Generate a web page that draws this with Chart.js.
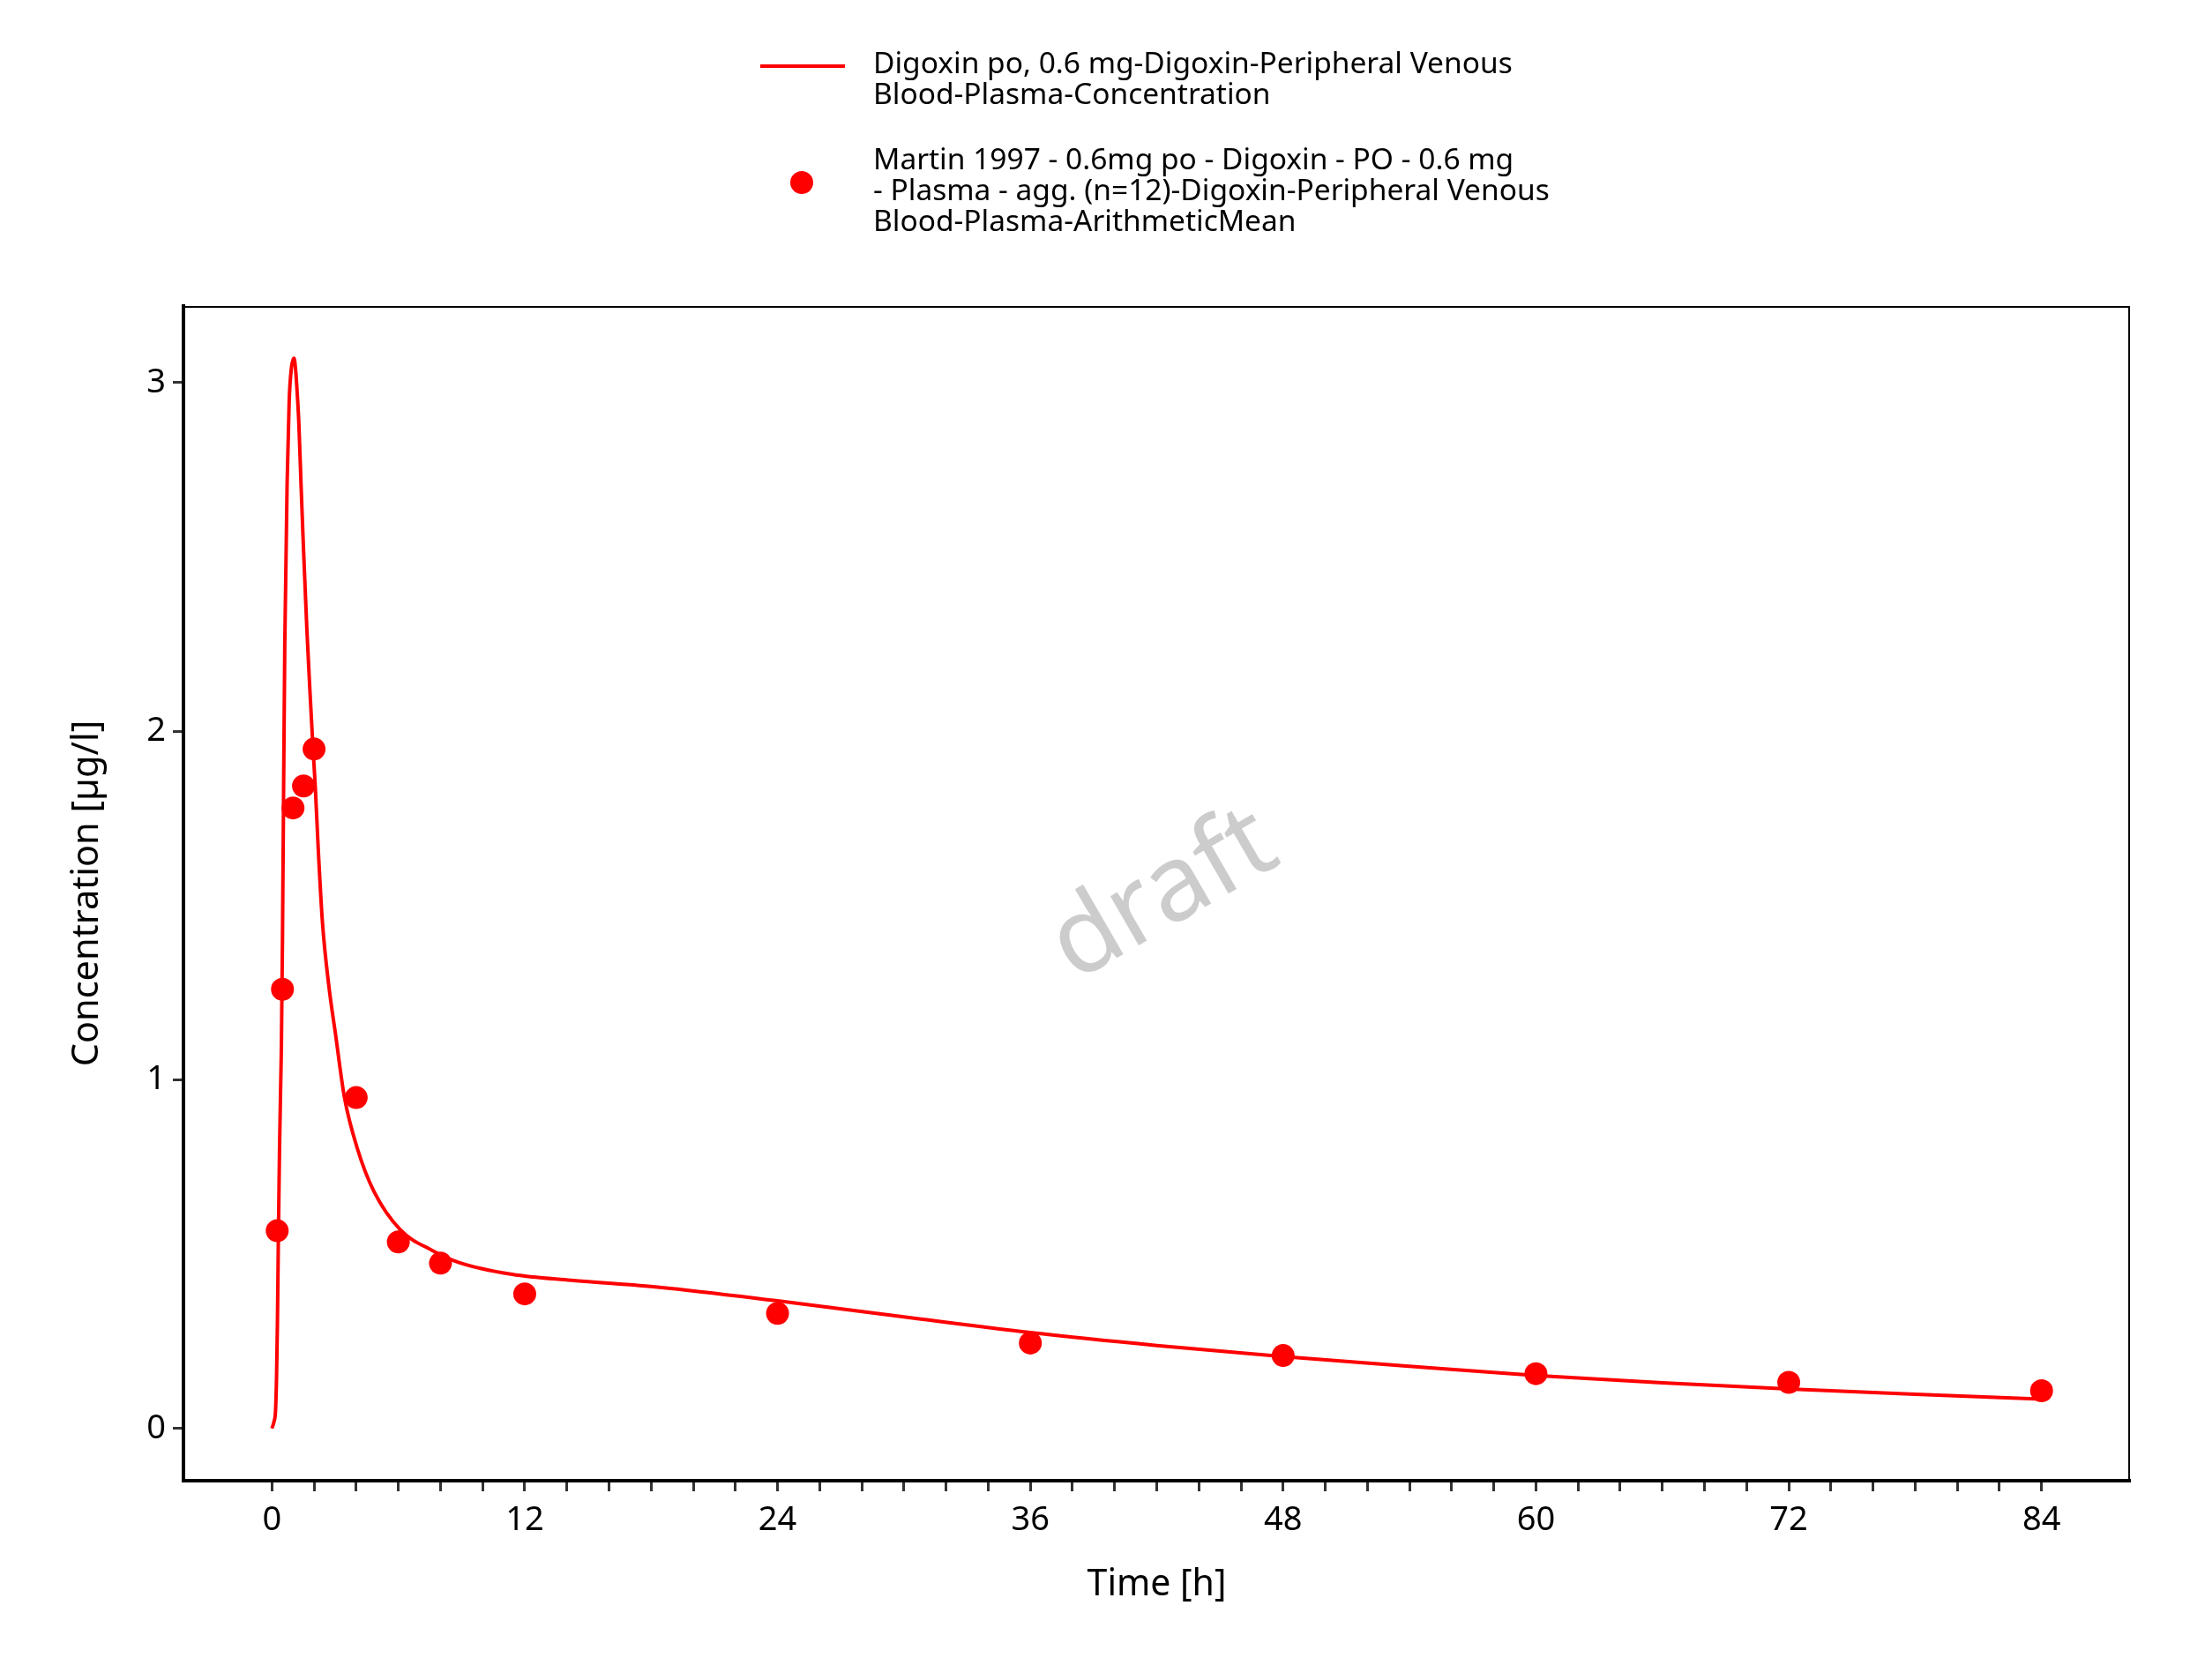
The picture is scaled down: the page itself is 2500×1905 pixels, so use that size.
<!DOCTYPE html>
<html>
<head>
<meta charset="utf-8">
<script src="https://cdn.jsdelivr.net/npm/chart.js@4.4.1/dist/chart.umd.min.js"></script>
<style>
  body { margin: 0; background: #fff; }
  #wrap { width: 2500px; height: 1905px; position: relative; }
</style>
</head>
<body>
<div id="wrap"><canvas id="pk"></canvas></div>
<script>
// simulated curve
const simTime = [0, 0.1, 0.17, 0.22, 0.26, 0.31, 0.36, 0.42, 0.45, 0.5, 0.55, 0.61, 0.72, 0.82, 0.92, 1.0, 1.05, 1.12, 1.2, 1.28, 1.38, 1.5, 1.66, 1.8, 1.95, 2.05, 2.2, 2.4, 2.7, 3.02, 3.44, 4.07, 4.84, 6.09, 7.63, 8.88, 11.4, 14.2, 18.4, 24, 30, 36, 42, 48, 54, 60, 66, 72, 78, 84];
const simConc = [0, 0.02, 0.05, 0.15, 0.30, 0.57, 0.80, 1.0, 1.1, 1.4, 1.8, 2.25, 2.71, 2.95, 3.04, 3.065, 3.07, 3.04, 2.97, 2.88, 2.71, 2.52, 2.29, 2.12, 1.95, 1.85, 1.66, 1.45, 1.27, 1.13, 0.95, 0.80, 0.68, 0.57, 0.51, 0.476, 0.442, 0.425, 0.405, 0.366, 0.32, 0.275, 0.238, 0.206, 0.178, 0.152, 0.131, 0.113, 0.098, 0.084];

// observed means
const obsTime = [0.25, 0.5, 1, 1.5, 2, 4, 6, 8, 12, 24, 36, 48, 60, 72, 84];
const obsConc = [0.567, 1.26, 1.78, 1.843, 1.949, 0.949, 0.535, 0.474, 0.386, 0.33, 0.245, 0.209, 0.157, 0.132, 0.108];

const simLabel = ['Digoxin po, 0.6 mg-Digoxin-Peripheral Venous', 'Blood-Plasma-Concentration'];
const obsLabel = ['Martin 1997 - 0.6mg po - Digoxin - PO - 0.6 mg', '- Plasma - agg. (n=12)-Digoxin-Peripheral Venous', 'Blood-Plasma-ArithmeticMean'];

const xMajor = [0, 12, 24, 36, 48, 60, 72, 84];
const yTicks = [0, 1, 2, 3];

const RED = '#ff0000';
const FONT = "'Noto Sans', sans-serif";

// top/right frame lines
const framePlugin = {
    id: 'frame',
    afterDraw(chart) {
        const { ctx, chartArea: a } = chart;
        ctx.save();
        ctx.strokeStyle = '#000';
        ctx.lineWidth = 2;
        ctx.beginPath();
        ctx.moveTo(a.left, a.top + 1);
        ctx.lineTo(a.right - 1, a.top + 1);
        ctx.lineTo(a.right - 1, a.bottom);
        ctx.stroke();
        ctx.restore();
    }
};

const watermark = {
    id: 'watermark',
    beforeDatasetsDraw(chart) {
        const { ctx, chartArea: a } = chart;
        ctx.save();
        ctx.translate((a.left + a.right) / 2 + 8, (a.top + a.bottom) / 2 + 3);
        ctx.rotate(-30 * Math.PI / 180);
        ctx.fillStyle = '#cccccc';
        ctx.font = '120px ' + FONT;
        ctx.textAlign = 'center';
        ctx.textBaseline = 'middle';
        ctx.fillText('draft', 0, 0);
        ctx.restore();
    }
};

// legend drawn by hand, multi-line labels
const legendPlugin = {
    id: 'multiLegend',
    afterDraw(chart) {
        const ctx = chart.ctx;
        const ds = chart.data.datasets;
        ctx.save();
        ctx.font = '33.5px ' + FONT;
        ctx.fillStyle = '#000';
        ctx.textBaseline = 'middle';
        ctx.textAlign = 'left';
        const textX = 990, lh = 35.3;
        // line entry
        ctx.strokeStyle = ds[0].borderColor;
        ctx.lineWidth = 4;
        ctx.beginPath();
        ctx.moveTo(862, 75);
        ctx.lineTo(958, 75);
        ctx.stroke();
        ds[0].legendLines.forEach((t, i) => ctx.fillText(t, textX, 73 + i * lh));
        // point entry
        ctx.fillStyle = ds[1].backgroundColor;
        ctx.beginPath();
        ctx.arc(909, 207, 13, 0, Math.PI * 2);
        ctx.fill();
        ctx.fillStyle = '#000';
        ds[1].legendLines.forEach((t, i) => ctx.fillText(t, textX, 182 + i * lh));
        ctx.restore();
    }
};

const ctx = document.getElementById('pk').getContext('2d');
const chart = new Chart(ctx, {
    type: 'scatter',
    data: {
        datasets: [{
            type: 'line',
            label: simLabel.join(' '),
            legendLines: simLabel,
            data: simTime.map((t, i) => ({ x: t, y: simConc[i] })),
            borderColor: RED,
            backgroundColor: RED,
            borderWidth: 4,
            pointRadius: 0,
            cubicInterpolationMode: 'monotone',
            fill: false
        }, {
            label: obsLabel.join(' '),
            legendLines: obsLabel,
            data: obsTime.map((t, i) => ({ x: t, y: obsConc[i] })),
            backgroundColor: RED,
            borderColor: RED,
            borderWidth: 0,
            pointRadius: 13
        }]
    },
    options: {
        responsive: true,
        maintainAspectRatio: false,
        animation: false,
        layout: {
            padding: { left: 0, top: 347, right: 85, bottom: 0 }
        },
        plugins: {
            legend: { display: false },
            tooltip: { enabled: false }
        },
        scales: {
            x: {
                type: 'linear',
                min: -4.2,
                max: 88.2,
                afterFit: (s) => { s.height = 226; },
                afterBuildTicks: (s) => {
                    s.ticks = s.ticks.filter(t => t.value >= 0 && t.value <= 84);
                },
                ticks: {
                    stepSize: 2,
                    includeBounds: false,
                    autoSkip: false,
                    maxRotation: 0,
                    padding: 10,
                    color: '#000',
                    font: { family: FONT, size: 38 },
                    callback: (v) => xMajor.includes(v) ? String(v) : ''
                },
                grid: {
                    drawOnChartArea: false,
                    drawTicks: true,
                    tickLength: 12,
                    tickWidth: 3,
                    tickColor: '#333'
                },
                border: { display: true, color: '#000', width: 4 },
                title: {
                    display: true,
                    text: 'Time [h]',
                    color: '#000',
                    font: { family: FONT, size: 41 },
                    padding: { top: 0, bottom: 83 }
                }
            },
            y: {
                type: 'linear',
                min: -0.15,
                max: 3.22,
                afterFit: (s) => { s.width = 208; },
                afterBuildTicks: (s) => {
                    s.ticks = yTicks.map(v => ({ value: v }));
                },
                ticks: {
                    padding: 8,
                    color: '#000',
                    font: { family: FONT, size: 38 }
                },
                grid: {
                    drawOnChartArea: false,
                    drawTicks: true,
                    tickLength: 12,
                    tickWidth: 3,
                    tickColor: '#333'
                },
                border: { display: true, color: '#000', width: 4 },
                title: {
                    display: true,
                    text: 'Concentration [µg/l]',
                    color: '#000',
                    font: { family: FONT, size: 41.5 },
                    padding: { top: 74, bottom: 0 }
                }
            }
        }
    },
    plugins: [watermark, framePlugin, legendPlugin]
});
</script>
</body>
</html>
